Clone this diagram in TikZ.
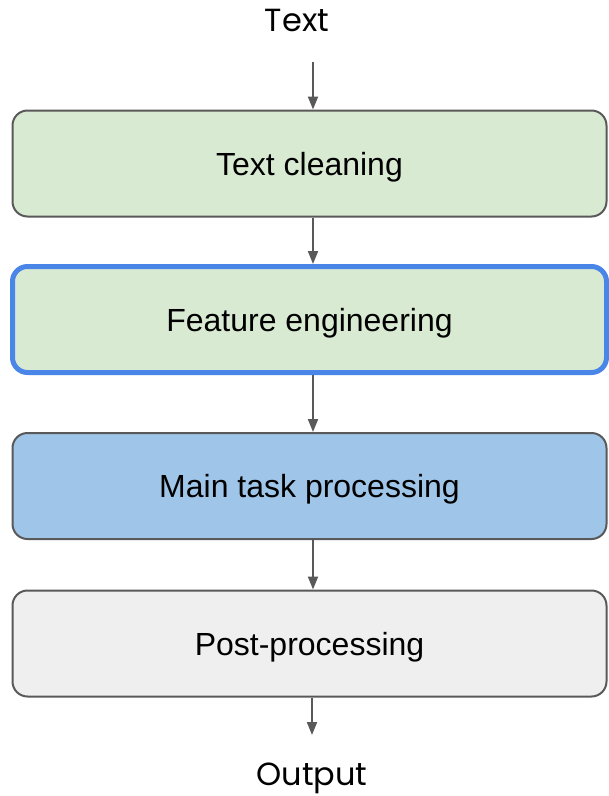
\documentclass[tikz,border=0pt]{standalone}
\usepackage{fontspec}
\setmainfont{Liberation Sans}
\newfontfamily\labelfont{Poppins}
\usetikzlibrary{arrows.meta}
\definecolor{boxgreen}{HTML}{D9EAD3}
\definecolor{boxblue}{HTML}{9FC5E8}
\definecolor{boxgray}{HTML}{EFEFEF}
\definecolor{edgegray}{HTML}{595959}
\definecolor{hiblue}{HTML}{4A86E8}
\begin{document}
\begin{tikzpicture}[x=1pt,y=-1pt,
  stage/.style={draw=edgegray,line width=2pt,rounded corners=15pt,
    minimum width=594pt,minimum height=106pt,inner sep=0pt,text depth=0pt,
    font=\fontsize{32}{37}\selectfont},
  ends/.style={font=\labelfont\fontsize{32}{37}\selectfont,inner sep=0pt,text depth=0pt},
  flow/.style={draw=edgegray,line width=2pt,-{Triangle[width=10pt,length=13pt]}}]
\useasboundingbox (0,0) rectangle (609,796);
\node[ends] (text) at (297,20) {Text};
\node[stage,fill=boxgreen] (clean) at (309.5,163.5) {Text cleaning};
\node[stage,fill=boxgreen,draw=hiblue,line width=5pt] (feat) at (309.5,319.5) {Feature engineering};
\node[stage,fill=boxblue] (main) at (309.5,486) {Main task processing};
\node[stage,fill=boxgray] (post) at (309.5,643.5) {Post-processing};
\node[ends] (output) at (312,774) {Output};
\coordinate (in) at (313,62);
\coordinate (out) at (312,735);
\draw[flow] (in) -- (in |- clean.north);
\draw[flow] (clean.south -| in) -- (feat.north -| in);
\draw[flow] (feat.south -| in) -- (main.north -| in);
\draw[flow] (main.south -| in) -- (post.north -| in);
\draw[flow] (post.south -| out) -- (out);
\end{tikzpicture}
\end{document}
